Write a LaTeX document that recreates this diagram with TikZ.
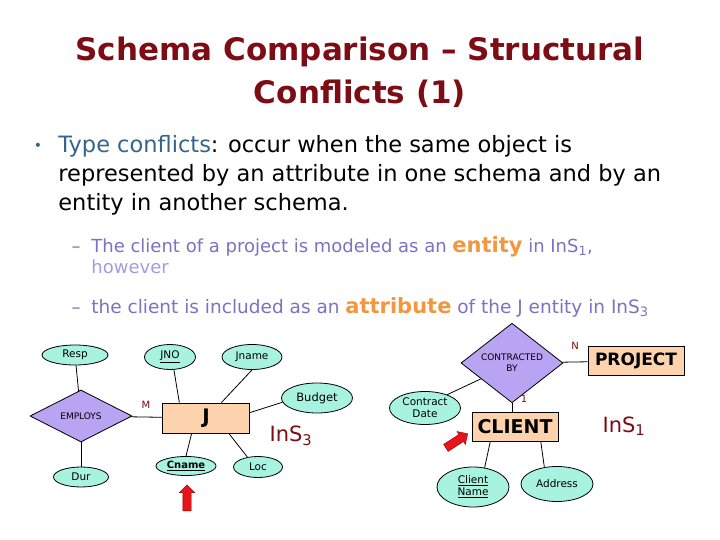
\documentclass[tikz,border=0pt]{standalone}
\usepackage{fontspec}
\setmainfont{DejaVu Sans}
\usepackage{xcolor}
\usetikzlibrary{shapes.geometric,shapes.arrows}
\definecolor{titlered}{HTML}{7D0C14}
\definecolor{typeblue}{HTML}{36648B}
\definecolor{subpurple}{HTML}{7B72C4}
\definecolor{subpale}{HTML}{A39CE0}
\definecolor{hiorange}{HTML}{F2973F}
\definecolor{attrfill}{HTML}{A8F3DF}
\definecolor{relfill}{HTML}{B8A4F2}
\definecolor{entfill}{HTML}{FCD3AC}
\definecolor{hintred}{HTML}{E8141B}
\newcommand{\hiword}[1]{{\color{hiorange}\bfseries\fontsize{21}{23}\selectfont #1}}

\begin{document}
\begin{tikzpicture}[x=1pt, y=-1pt, line width=0.8pt,
  attr/.style={draw, ellipse, fill=attrfill, inner sep=0pt, align=center, font=\fontsize{10.5}{12}\selectfont},
  rel/.style={draw, diamond, fill=relfill, inner sep=0pt, align=center, font=\fontsize{9}{11}\selectfont},
  ent/.style={draw, fill=entfill, inner sep=0pt, font=\bfseries\fontsize{17}{19}\selectfont},
  card/.style={text=titlered, inner sep=1pt, font=\fontsize{10}{12}\selectfont},
  schema/.style={text=titlered, font=\fontsize{21}{24}\selectfont},
  hint/.style={single arrow, draw=red!55!black, line width=0.4pt, fill=hintred, inner sep=4pt, single arrow head extend=3.5pt, minimum height=26pt}
]
  \useasboundingbox (0,0) rectangle (720,540);
  \fill[white] (0,0) rectangle (720,540);

  \node[text=titlered, align=center, font=\bfseries\fontsize{31}{43}\selectfont, anchor=base] (title) at (360,104) {Schema Comparison – Structural\\Conflicts (1)};

  \node[text=typeblue, font=\fontsize{14}{16}\selectfont, anchor=base] (dot) at (38,151) {•};
  \node[align=left, anchor=base west, inner sep=0pt, font=\fontsize{22.5}{29}\selectfont] (tc) at (58,211)
    {\textcolor{typeblue}{Type conflicts}: occur when the same object is\\represented by an attribute in one schema and by an\\entity in another schema.};
  \node[text=subpurple, font=\fontsize{18}{20}\selectfont, anchor=base] (dash1) at (76,252) {–};
  \node[align=left, anchor=base west, inner sep=0pt, text=subpurple, font=\fontsize{18}{21}\selectfont] (sub1) at (91,273)
    {The client of a project is modeled as an \hiword{entity} in InS\textsubscript{1},\\\textcolor{subpale}{however}};
  \node[text=subpurple, font=\fontsize{18}{20}\selectfont, anchor=base] (dash2) at (76,313) {–};
  \node[anchor=base west, inner sep=0pt, text=subpurple, font=\fontsize{18.5}{21}\selectfont] (sub2) at (91,313)
    {the client is included as an \hiword{attribute} of the J entity in InS\textsubscript{3}};

  \node[attr, minimum width=66pt, minimum height=20pt] (resp) at (75,355) {Resp};
  \node[attr, minimum width=51pt, minimum height=25pt] (jno) at (170,357) {\underline{JNO}};
  \node[attr, minimum width=60pt, minimum height=25pt] (jname) at (252,357) {Jname};
  \node[attr, minimum width=71pt, minimum height=30pt, font=\fontsize{11.5}{13}\selectfont] (budget) at (317,398) {Budget};
  \node[rel, minimum width=102pt, minimum height=52pt] (employs) at (81,416) {EMPLOYS};
  \node[ent, minimum width=87pt, minimum height=30pt, font=\bfseries\fontsize{20}{22}\selectfont] (j) at (206,418) {J};
  \node[attr, minimum width=55pt, minimum height=20pt] (dur) at (81,477) {Dur};
  \node[attr, minimum width=60pt, minimum height=19pt, font=\bfseries\fontsize{10}{12}\selectfont] (cname) at (186,466) {\underline{Cname}};
  \node[attr, minimum width=49pt, minimum height=21pt] (loc) at (258,467) {Loc};
  \node[card] (m) at (146,405) {M};
  \node[schema] (ins3) at (291,436) {InS\textsubscript{3}};
  \node[hint, rotate=90] (arrcname) at (187,500) {};

  \draw (resp) -- (employs);
  \draw (employs) -- (dur);
  \draw (employs) -- (j);
  \draw (jno.-73) -- (j.150);
  \draw (jname.south) -- (j.45);
  \draw (budget.187) -- (j.7);
  \draw (cname.north) -- (j.-133);
  \draw (loc.137) -- (j.-34);

  \node[rel, minimum width=102pt, minimum height=51pt] (contracted) at (512,363) {CONTRACTED\\BY};
  \node[ent, minimum width=96pt, minimum height=29pt] (project) at (636,361) {PROJECT};
  \node[attr, minimum width=71pt, minimum height=33pt] (cdate) at (425,408) {Contract\\Date};
  \node[ent, minimum width=86pt, minimum height=29pt, font=\bfseries\fontsize{19}{21}\selectfont] (client) at (515,427) {CLIENT};
  \node[attr, minimum width=72pt, minimum height=40pt] (clientname) at (473,487) {\underline{Client}\\\underline{Name}};
  \node[attr, minimum width=72pt, minimum height=35pt] (address) at (557,484) {Address};
  \node[card] (n) at (575,346) {N};
  \node[card] (one) at (524,399) {1};
  \node[schema] (ins1) at (624,426) {InS\textsubscript{1}};
  \node[hint, rotate=33] (arrclient) at (455,442) {};

  \draw (contracted) -- (project);
  \draw (cdate.31) -- (contracted.207);
  \draw (contracted.south) -- (contracted.south |- client.north);
  \draw (clientname.59) -- (client.-149);
  \draw (address.127) -- (client.-30);
\end{tikzpicture}
\end{document}
